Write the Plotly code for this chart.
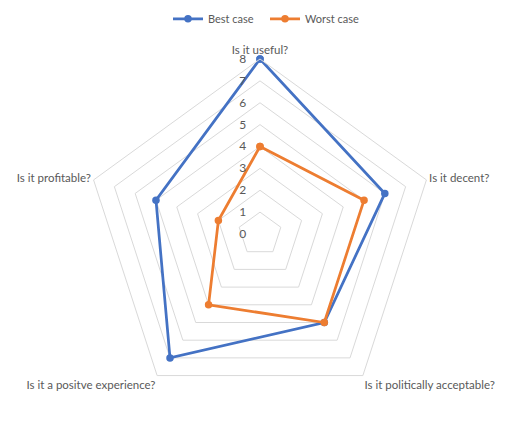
import plotly.graph_objects as go

# Datos del gráfico radar
categorias = ["Is it useful?", "Is it decent?", "Is it politically acceptable?",
              "Is it a positve experience?", "Is it profitable?"]
mejor_caso = [8, 6, 5, 7, 5]
peor_caso = [4, 5, 5, 4, 2]
ticks_radiales = [0, 1, 2, 3, 4, 5, 6, 7, 8]

AZUL = "#4472C4"
NARANJA = "#ED7D31"
GRIS = "#595959"

fig = go.Figure()
# Cerrar el polígono repitiendo el primer punto
for nombre, valores, color in [("Best case", mejor_caso, AZUL),
                               ("Worst case", peor_caso, NARANJA)]:
    fig.add_trace(go.Scatterpolar(
        r=valores + valores[:1],
        theta=categorias + categorias[:1],
        mode="lines+markers",
        name=nombre,
        line=dict(color=color, width=2.75),
        marker=dict(color=color, size=7.5),
    ))

W, H = 530, 437
cx, cy, R = 260, 234, 175
fig.update_layout(
    width=W, height=H,
    autosize=False,
    margin=dict(l=0, r=0, t=0, b=0),
    paper_bgcolor="white",
    plot_bgcolor="white",
    font=dict(family="Lato, Open Sans, sans-serif", size=11, color=GRIS),
    showlegend=True,
    legend=dict(orientation="h", x=0.5, xanchor="center", y=0.99, yanchor="top",
                font=dict(size=11, color=GRIS), itemwidth=30, entrywidth=52),
    polar=dict(
        gridshape="linear",
        bgcolor="white",
        domain=dict(x=[(cx - R) / W, (cx + R) / W],
                    y=[(H - cy - R) / H, (H - cy + R) / H]),
        angularaxis=dict(
            direction="clockwise",
            rotation=90,
            showgrid=False,
            showline=True,
            linecolor="#D9D9D9",
            linewidth=1,
            ticks="",
            tickfont=dict(size=11.5, color=GRIS),
        ),
        radialaxis=dict(
            range=[0, 8],
            tickvals=ticks_radiales,
            angle=90,
            tickangle=90,
            showline=False,
            gridcolor="#D9D9D9",
            gridwidth=1,
            # ticks transparentes para separar las etiquetas del eje
            ticks="outside",
            ticklen=9,
            tickcolor="rgba(0,0,0,0)",
            side="counterclockwise",
            tickfont=dict(size=12, color=GRIS),
        ),
    ),
)

# Quitar el margen por defecto del body para que la figura empiece en (0, 0)
fig.write_html("out.html", config={"displayModeBar": False},
               post_script="document.body.style.margin='0';")
